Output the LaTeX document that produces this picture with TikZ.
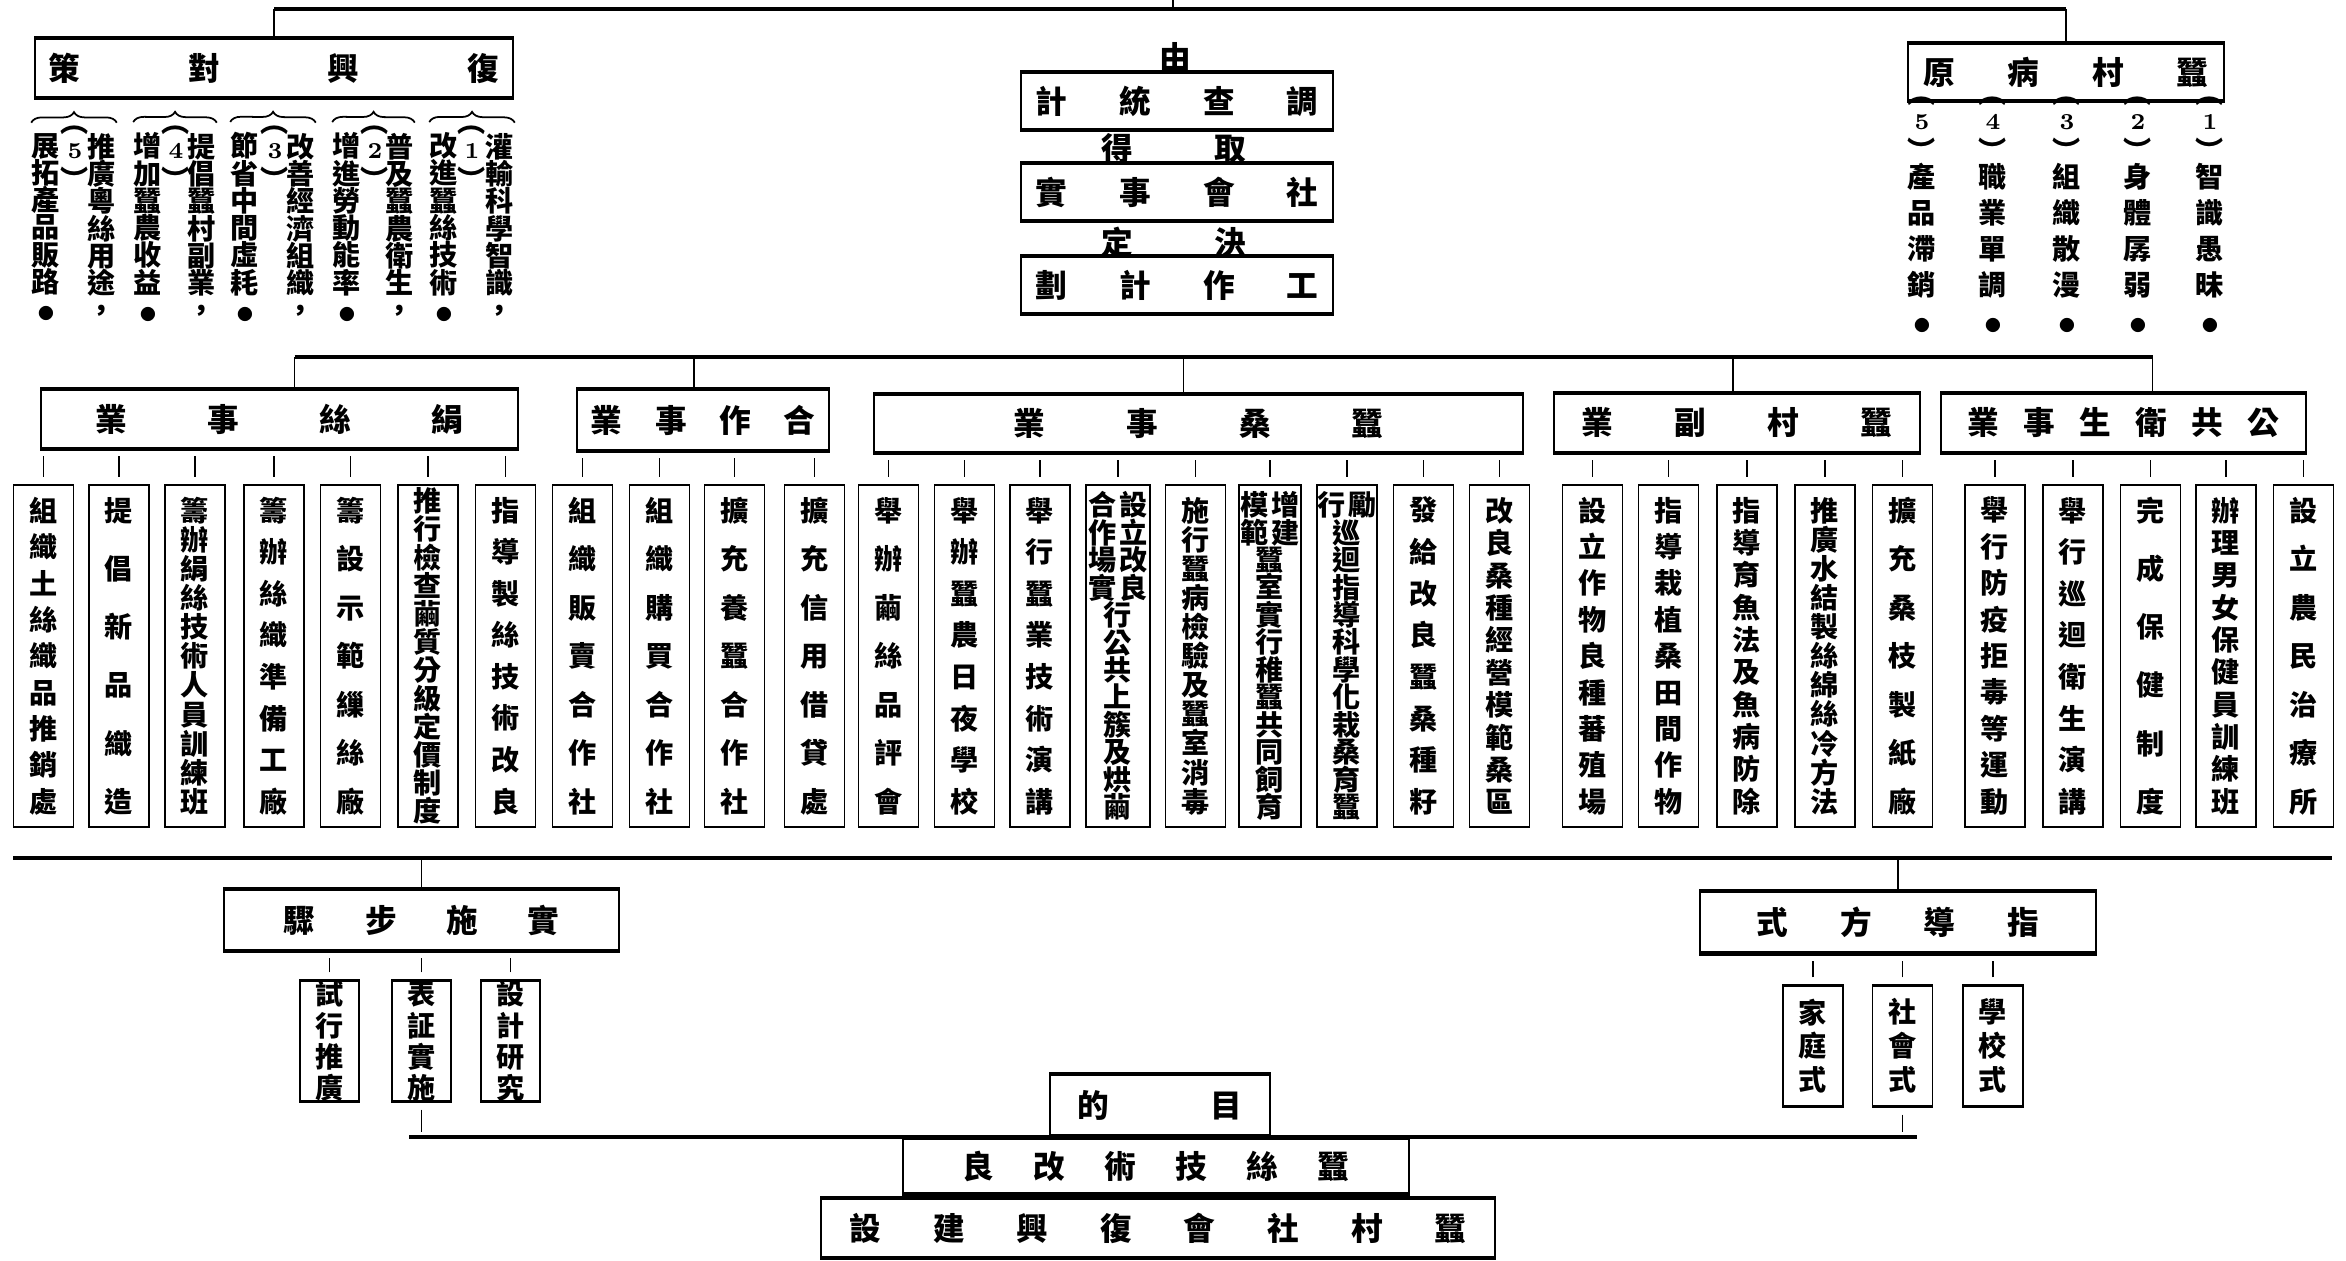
\documentclass[tikz,border=0pt]{standalone}
\usepackage{fontspec}
\newfontfamily\cjk{Noto Sans CJK TC}
\usetikzlibrary{calc, decorations.pathreplacing}

\newcommand{\headfont}{\cjk\bfseries\fontsize{9}{10}\selectfont}
\newcommand{\itemfont}{\cjk\bfseries\fontsize{8}{8}\selectfont}
\newcommand{\dotmark}{{\fontsize{4.5}{4.5}\selectfont ●}}

\makeatletter
% characters spread over a fixed width / height
\def\hsp@@#1#2\@nil{#1\ifx\relax#2\relax\else\hfil\hsp@@#2\@nil\fi}
\newcommand{\hspread}[2]{\hbox to #1{\hsp@@#2\@nil}}
\def\vsp@@#1#2\@nil{\hbox to 1em{\hss#1\hss}\ifx\relax#2\relax\else\vfil\vsp@@#2\@nil\fi}
\newcommand{\vspread}[2][3.15cm]{\vbox to #1{\lineskiplimit=-\maxdimen\expandafter\vsp@@#2\@nil}}
% characters one under another
\def\vst@@#1#2\@nil{\hbox to 1em{\hss#1\hss}\ifx\relax#2\relax\else\vst@@#2\@nil\fi}
\newcommand{\vstack}[1]{\vbox{\lineskiplimit=-\maxdimen\expandafter\vst@@#1\@nil}}
% number in vertical brackets
\newcommand{\pstack}[1]{\vbox{\offinterlineskip
  \hbox to 1em{\hss︵\hss}\kern2.6pt
  \hbox to 1em{\hss\rmfamily\bfseries\fontsize{6.5}{6.5}\selectfont#1\hss}\kern2.3pt
  \hbox to 1em{\hss︶\hss}}}
\makeatother

\tikzset{
  bus/.style={line width=1pt},
  drop/.style={line width=0.5pt},
  tick/.style={line width=0.4pt, shorten <=2pt, shorten >=1.5pt},
  edges/.style={path picture={\draw[line width=#1]
      (path picture bounding box.north west) -- (path picture bounding box.north east)
      (path picture bounding box.south west) -- (path picture bounding box.south east);}},
  head/.style={draw, line width=0.55pt, inner sep=0pt, edges=1.8pt, font=\headfont},
  item/.style={draw, line width=0.35pt, inner sep=0pt, edges=1.1pt, font=\itemfont},
  tight/.style={align=center, font=\cjk\bfseries\fontsize{8}{7.8}\selectfont},
  word/.style={inner sep=0pt, font=\headfont},
  sub/.style={inner sep=0pt, font=\cjk\bfseries\fontsize{8}{7.75}\selectfont},
  subwide/.style={inner sep=0pt, font=\cjk\bfseries\fontsize{8}{10.2}\selectfont},
  num/.style={inner sep=0pt, font=\cjk\bfseries\fontsize{8}{8}\selectfont},
  brace/.style={decorate, decoration={brace, amplitude=3pt}, line width=0.5pt}
}

\begin{document}
\begin{tikzpicture}[x=0.01cm, y=-0.01cm]
  \useasboundingbox (0,0) rectangle (2346,1260);
  % top row
  \coordinate (bus1) at (0,9);
  \coordinate (topstub) at (1173,0);
  \node[head, minimum width=4.78cm, minimum height=0.63cm] (fuxing) at (274,68) {\hspread{4.5cm}{策對興復}};
  \node[head, minimum width=3.15cm, minimum height=0.6cm] (bingyuan) at (2066,72) {\hspread{2.85cm}{原病村蠶}};
  \draw[bus] (fuxing.north |- bus1) -- (bingyuan.north |- bus1);
  \draw[drop] (fuxing.north) -- (fuxing.north |- bus1);
  \draw[drop] (bingyuan.north) -- (bingyuan.north |- bus1);
  \draw[drop] (topstub) -- (topstub |- bus1);
  % middle stack
  \node[word] (you) at (1175,57) {由};
  \node[head, minimum width=3.12cm, minimum height=0.61cm] (diaocha) at (1177,101) {\hspread{2.83cm}{計統查調}};
  \node[word] (qude) at (1174,148) {\hspread{1.44cm}{得取}};
  \node[head, minimum width=3.12cm, minimum height=0.61cm] (shehui) at (1177,192) {\hspread{2.83cm}{實事會社}};
  \node[word] (jueding) at (1174,242) {\hspread{1.44cm}{定決}};
  \node[head, minimum width=3.12cm, minimum height=0.61cm] (gongzuo) at (1177,285) {\hspread{2.83cm}{劃計作工}};
  % remedies
  \foreach \k/\xr/\xp/\xl/\tr/\tl in {1/500/472/444/灌輸科學智識，/改進蠶絲技術\dotmark,
      2/400/375/347/普及蠶農衛生，/增進勞動能率\dotmark,
      3/301/275/245/改善經濟組織，/節省中間虛耗\dotmark,
      4/202/176/148/提倡蠶村副業，/增加蠶農收益\dotmark,
      5/102/75/46/推廣粵絲用途，/展拓產品販路\dotmark}{
    \node[sub] (fr\k) at (\xr,227) {\vstack{\tr}};
    \node[sub] (fl\k) at (\xl,227) {\vstack{\tl}};
    \node[num] (fn\k) at (\xp,158) {\pstack{\k}};
    \draw[brace] ([yshift=2.8pt]fl\k.north west) -- ([yshift=2.8pt]fr\k.north east);
  }
  % causes
  \foreach \k/\x/\t in {5/1922/產品滯銷, 4/1993/職業單調, 3/2067/組織散漫, 2/2138/身體孱弱, 1/2210/智識愚昧}{
    \node[subwide] (b\k) at (\x,248) {\vstack{\t\dotmark}};
    \node[num] (bn\k) at (\x,129) {\pstack{\k}};
  }
  % second row
  \coordinate (bus2) at (0,357);
  \node[head, minimum width=4.77cm, minimum height=0.62cm] (juansi) at (279.5,419) {\hspread{3.68cm}{業事絲絹}};
  \node[head, minimum width=2.52cm, minimum height=0.64cm] (hezuo) at (703,420) {\hspread{2.24cm}{業事作合}};
  \node[head, minimum width=6.49cm, minimum height=0.61cm] (cansang) at (1198.5,423.5) {\hspread{3.70cm}{業事桑蠶}};
  \node[head, minimum width=3.66cm, minimum height=0.62cm] (fuye) at (1737,423) {\hspread{3.10cm}{業副村蠶}};
  \node[head, minimum width=3.65cm, minimum height=0.62cm] (weisheng) at (2123.5,423) {\hspread{3.12cm}{業事生衛共公}};
  \draw[bus] ($(juansi.north |- bus2)+(15,0)$) -- ($(weisheng.north |- bus2)+(29,0)$);
  \foreach \n/\s in {juansi/15, hezuo/-9, cansang/-15, fuye/-4, weisheng/29}
    \draw[drop] ($(\n.north)+(\s,0)$) -- ($(\n.north |- bus2)+(\s,0)$);
  % projects
  \foreach \n/\x/\h/\p/\t in {j1/43.5/3.15/juansi/組織土絲織品推銷處,
      j2/119/3.15/juansi/提倡新品織造,
      j3/195/3.15/juansi/籌辦絹絲技術人員訓練班,
      j4/274/3.15/juansi/籌辦絲織準備工廠,
      j5/350.5/3.15/juansi/籌設示範繅絲廠,
      j6/428/3.34/juansi/推行檢查繭質分級定價制度,
      j7/505.5/3.15/juansi/指導製絲技術改良,
      h1/582.5/3.15/hezuo/組織販賣合作社,
      h2/659.5/3.15/hezuo/組織購買合作社,
      h3/734.5/3.15/hezuo/擴充養蠶合作社,
      h4/814.5/3.15/hezuo/擴充信用借貸處,
      s1/888.5/3.15/cansang/舉辦繭絲品評會,
      s2/964.5/3.15/cansang/舉辦蠶農日夜學校,
      s3/1040/3.15/cansang/舉行蠶業技術演講,
      s5/1195.5/3.15/cansang/施行蠶病檢驗及蠶室消毒,
      s8/1423.5/3.15/cansang/發給改良蠶桑種籽,
      s9/1499.5/3.15/cansang/改良桑種經營模範桑區,
      f1/1592.5/3.15/fuye/設立作物良種蕃殖場,
      f2/1668.5/3.15/fuye/指導栽植桑田間作物,
      f3/1747/3.15/fuye/指導育魚法及魚病防除,
      f4/1825/3.15/fuye/推廣水結製絲綿絲冷方法,
      f5/1902.5/3.15/fuye/擴充桑枝製紙廠,
      w1/1995/3.15/weisheng/舉行防疫拒毒等運動,
      w2/2073/3.15/weisheng/舉行巡迴衛生演講,
      w3/2150.5/3.15/weisheng/完成保健制度,
      w4/2226/3.15/weisheng/辦理男女保健員訓練班,
      w5/2303.5/3.15/weisheng/設立農民治療所}{
    \node[item, minimum width=0.6cm, minimum height=3.43cm] (\n) at (\x,656) {\vspread[\h cm]{\t}};
    \draw[tick] (\n.north) -- (\n.north |- \p.south);
  }
  \node[item, tight, minimum width=0.64cm, minimum height=3.43cm] (s4) at (1118,656)
    {合\hspace{1pt}設\\作\hspace{1pt}立\\場\hspace{1pt}改\\實\hspace{1pt}良\\行\\公\\共\\上\\簇\\及\\烘\\繭};
  \node[item, tight, minimum width=0.62cm, minimum height=3.43cm] (s6) at (1270,656)
    {模\hspace{1pt}增\\範\hspace{1pt}建\\蠶\\室\\實\\行\\稚\\蠶\\共\\同\\飼\\育};
  \node[item, tight, minimum width=0.6cm, minimum height=3.43cm] (s7) at (1347,656)
    {行\hspace{1pt}勵\\巡\\迴\\指\\導\\科\\學\\化\\栽\\桑\\育\\蠶};
  \foreach \n in {s4, s6, s7} \draw[tick] (\n.north) -- (\n.north |- cansang.south);
  % steps and methods
  \coordinate (bus3w) at (13,858);
  \coordinate (bus3e) at (2332,858);
  \draw[bus] (bus3w) -- (bus3e);
  \node[head, minimum width=3.95cm, minimum height=0.64cm] (shishi) at (421.5,920) {\hspread{2.75cm}{驟步施實}};
  \draw[drop] (shishi.north) -- (shishi.north |- bus3w);
  \node[item, minimum width=0.59cm, minimum height=1.22cm] (shixing) at (329.5,1041) {\vspread[1.18cm]{試行推廣}};
  \node[item, minimum width=0.59cm, minimum height=1.22cm] (biaozheng) at (421.5,1041) {\vspread[1.18cm]{表証實施}};
  \node[item, minimum width=0.59cm, minimum height=1.22cm] (sheji) at (510.5,1041) {\vspread[1.18cm]{設計研究}};
  \foreach \n in {shixing, biaozheng, sheji} \draw[tick] (\n.north) -- (\n.north |- shishi.south);
  \node[head, minimum width=3.96cm, minimum height=0.65cm] (zhidao) at (1898,922) {\hspread{2.82cm}{式方導指}};
  \draw[drop] (zhidao.north) -- (zhidao.north |- bus3w);
  \node[item, minimum width=0.6cm, minimum height=1.22cm] (jiating) at (1813,1046) {\vspread[0.92cm]{家庭式}};
  \node[item, minimum width=0.6cm, minimum height=1.22cm] (shehuishi) at (1902.5,1046) {\vspread[0.92cm]{社會式}};
  \node[item, minimum width=0.6cm, minimum height=1.22cm] (xuexiao) at (1993,1046) {\vspread[0.92cm]{學校式}};
  \foreach \n in {jiating, shehuishi, xuexiao} \draw[tick] (\n.north) -- (\n.north |- zhidao.south);
  % aims
  \coordinate (bus4) at (0,1137);
  \draw[tick] (biaozheng.south) -- (biaozheng.south |- bus4);
  \draw[tick] (shehuishi.south) -- (shehuishi.south |- bus4);
  \draw[bus, shorten <=-3.5pt, shorten >=-4pt] (biaozheng.south |- bus4) -- (shehuishi.south |- bus4);
  \node[head, minimum width=2.2cm, minimum height=0.64cm] (mudi) at (1160,1105) {\hspread{1.64cm}{的目}};
  \node[head, minimum width=5.06cm, minimum height=0.58cm] (gailiang) at (1156,1166) {\hspread{3.86cm}{良改術技絲蠶}};
  \node[head, minimum width=6.74cm, minimum height=0.62cm] (jianshe) at (1158,1228) {\hspread{6.16cm}{設建興復會社村蠶}};
\end{tikzpicture}
\end{document}
